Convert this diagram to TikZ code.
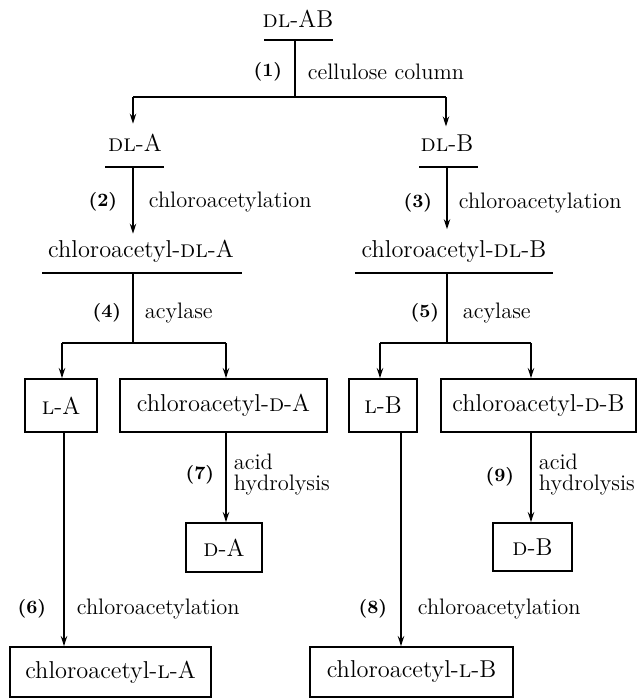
\documentclass[tikz,border=0pt]{standalone}
\usepackage{fontspec}
\usepackage{tikz}
\usetikzlibrary{arrows.meta}

\newcommand{\mainfs}{\fontsize{12.2}{14}\selectfont}
\newcommand{\labfs}{\fontsize{11.2}{10.5}\selectfont}
\newcommand{\numfs}{\fontsize{9.4}{11}\selectfont\bfseries}

\begin{document}
\begin{tikzpicture}[x=0.5pt,y=0.5pt,yscale=-1,line width=0.9pt,
  arr/.style={-{Stealth[length=5pt,width=3.2pt]}},
  compound/.style={inner sep=0pt,font=\mainfs,anchor=base},
  stagebox/.style={draw,inner sep=0pt,font=\mainfs},
  stepno/.style={inner sep=0pt,font=\numfs,anchor=east},
  steptxt/.style={inner sep=0pt,font=\labfs,anchor=west,align=left}]
\useasboundingbox (0,0) rectangle (638,698);

% Text Node
\node [compound] (dlab) at (298,27) {\textsc{dl}-AB};
\node [compound] (dla) at (135,151) {\textsc{dl}-A};
\node [compound] (dlb) at (447,151) {\textsc{dl}-B};
\node [compound] (cdla) at (141,257) {chloroacetyl-\textsc{dl}-A};
\node [compound] (cdlb) at (454,257) {chloroacetyl-\textsc{dl}-B};

%Straight Lines (bars under the racemates)
\draw (264,40) -- (333,40);
\draw (105,167) -- (164,167);
\draw (419,167) -- (478,167);
\draw (42,273) -- (242,273);
\draw (355,273) -- (553,273);

% Shape: Rectangle
\node [stagebox,minimum width=36pt,minimum height=26.5pt] (la) at (61,405.5) {\textsc{l}-A};
\node [stagebox,minimum width=103.5pt,minimum height=26.5pt] (cda) at (223.5,405.5) {chloroacetyl-\textsc{d}-A};
\node [stagebox,minimum width=34pt,minimum height=26.5pt] (lb) at (383,405.5) {\textsc{l}-B};
\node [stagebox,minimum width=97.5pt,minimum height=26.5pt] (cdb) at (538.5,405.5) {chloroacetyl-\textsc{d}-B};
\node [stagebox,minimum width=38pt,minimum height=24.5pt] (da) at (224,547.5) {\textsc{d}-A};
\node [stagebox,minimum width=39.5pt,minimum height=24pt] (db) at (532.5,547) {\textsc{d}-B};
\node [stagebox,minimum width=100.5pt,minimum height=25pt] (cla) at (110.5,672) {chloroacetyl-\textsc{l}-A};
\node [stagebox,minimum width=101.5pt,minimum height=25pt] (clb) at (411.5,672) {chloroacetyl-\textsc{l}-B};

\coordinate (dlabbar) at (295,40);
\coordinate (split) at (295,97);
\coordinate (splitl) at (133,97);
\coordinate (splitr) at (446,97);
\coordinate (dlabar) at (133,167);
\coordinate (dlbbar) at (447,167);
\coordinate (cdlabar) at (133,273);
\coordinate (cdlbbar) at (447,273);
\coordinate (splita) at (133,343);
\coordinate (splitb) at (447,343);
\coordinate (lal) at (62,343);
\coordinate (lar) at (226,343);
\coordinate (lbl) at (380,343);
\coordinate (lbr) at (531,343);

%Straight Lines
\draw (dlabbar) -- (split);
\draw (splitl) -- (splitr);
\draw [arr,shorten >=4.5pt] (splitl) -- (splitl |- dla.north);
\draw [arr,shorten >=3.5pt] (splitr) -- (splitr |- dlb.north);
\draw [arr,shorten >=2.5pt] (dlabar) -- (dlabar |- cdla.north);
\draw [arr,shorten >=5pt] (dlbbar) -- (dlbbar |- cdlb.north);
\draw (cdlabar) -- (splita);
\draw (cdlbbar) -- (splitb);
\draw (lal) -- (lar);
\draw (lbl) -- (lbr);
\draw [arr] (lal) -- (lal |- la.north);
\draw [arr] (lar) -- (lar |- cda.north);
\draw [arr] (lbl) -- (lbl |- lb.north);
\draw [arr] (lbr) -- (lbr |- cdb.north);
\draw [arr] ([xshift=1.5pt]la.south) -- ([xshift=1.5pt]la.south |- cla.north);
\draw [arr] (lar |- cda.south) -- (lar |- da.north);
\draw [arr] ([xshift=9pt]lb.south) -- ([xshift=9pt]lb.south |- clb.north);
\draw [arr] (lbr |- cdb.south) -- (lbr |- db.north);

% Text Node
\node [stepno] (n1) at (283,72) {(1)};
\node [steptxt] (t1) at (307,72) {cellulose column};
\node [stepno] (n2) at (118,202) {(2)};
\node [steptxt] (t2) at (148,202) {chloroacetylation};
\node [stepno] (n3) at (433,203) {(3)};
\node [steptxt] (t3) at (458,203) {chloroacetylation};
\node [stepno] (n4) at (122,313) {(4)};
\node [steptxt] (t4) at (144,313) {acylase};
\node [stepno] (n5) at (440,313) {(5)};
\node [steptxt] (t5) at (462,313) {acylase};
\node [stepno] (n6) at (47,609) {(6)};
\node [steptxt] (t6) at (76,609) {chloroacetylation};
\node [stepno] (n7) at (215,475) {(7)};
\node [steptxt] (t7) at (233,475) {acid\\hydrolysis};
\node [stepno] (n8) at (388,609) {(8)};
\node [steptxt] (t8) at (417,609) {chloroacetylation};
\node [stepno] (n9) at (515,477) {(9)};
\node [steptxt] (t9) at (538,475) {acid\\hydrolysis};

\end{tikzpicture}
\end{document}
